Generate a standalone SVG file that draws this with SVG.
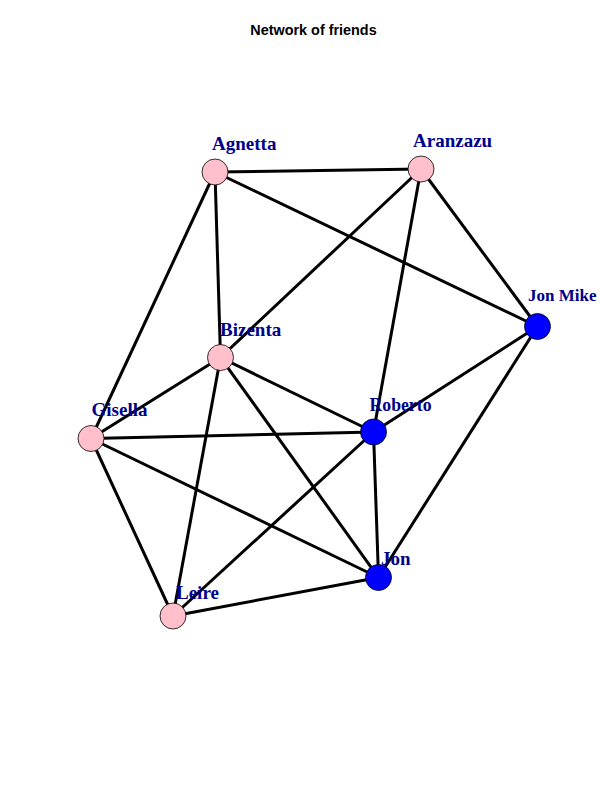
<svg xmlns="http://www.w3.org/2000/svg" width="600" height="800" viewBox="0 0 600 800">
<style>
.e{stroke:#000;stroke-width:3;fill:none}
.p{fill:#FFC0CB;stroke:#000;stroke-width:0.8}
.b{fill:#0000FF;stroke:#000;stroke-width:0.8}
.l{font-family:"Liberation Serif",serif;font-weight:bold;font-size:19px;fill:#00008B}
.t{font-family:"Liberation Sans",Arial,sans-serif;font-weight:bold;font-size:14.4px;fill:#000}
</style>
<rect width="600" height="800" fill="#fff"/>
<text class="t" x="313.5" y="35" text-anchor="middle">Network of friends</text>
<g id="edges">
<line class="e" x1="215" y1="172" x2="421" y2="169"/>
<line class="e" x1="215" y1="172" x2="537.5" y2="326.5"/>
<line class="e" x1="215" y1="172" x2="220.5" y2="357.5"/>
<line class="e" x1="215" y1="172" x2="91" y2="438.5"/>
<line class="e" x1="421" y1="169" x2="220.5" y2="357.5"/>
<line class="e" x1="421" y1="169" x2="373.5" y2="432"/>
<line class="e" x1="421" y1="169" x2="537.5" y2="326.5"/>
<line class="e" x1="537.5" y1="326.5" x2="373.5" y2="432"/>
<line class="e" x1="537.5" y1="326.5" x2="378.5" y2="577.5"/>
<line class="e" x1="220.5" y1="357.5" x2="91" y2="438.5"/>
<line class="e" x1="220.5" y1="357.5" x2="373.5" y2="432"/>
<line class="e" x1="220.5" y1="357.5" x2="378.5" y2="577.5"/>
<line class="e" x1="220.5" y1="357.5" x2="173" y2="616"/>
<line class="e" x1="91" y1="438.5" x2="373.5" y2="432"/>
<line class="e" x1="91" y1="438.5" x2="378.5" y2="577.5"/>
<line class="e" x1="91" y1="438.5" x2="173" y2="616"/>
<line class="e" x1="373.5" y1="432" x2="173" y2="616"/>
<line class="e" x1="373.5" y1="432" x2="378.5" y2="577.5"/>
<line class="e" x1="378.5" y1="577.5" x2="173" y2="616"/>
</g>
<g id="node-agnetta"><circle class="p" cx="215" cy="172" r="13"/><text class="l" x="212" y="149.5">Agnetta</text></g>
<g id="node-aranzazu"><circle class="p" cx="421" cy="169" r="13"/><text class="l" x="413" y="147">Aranzazu</text></g>
<g id="node-jonmike"><circle class="b" cx="537.5" cy="326.5" r="13"/><text class="l" x="528" y="300.5" style="font-size:17px">Jon Mike</text></g>
<g id="node-bizenta"><circle class="p" cx="220.5" cy="357.5" r="13"/><text class="l" x="220" y="335.5">Bizenta</text></g>
<g id="node-gisella"><circle class="p" cx="91" cy="438.5" r="13"/><text class="l" x="91.5" y="415.5">Gisella</text></g>
<g id="node-roberto"><circle class="b" cx="373.5" cy="432" r="13"/><text class="l" x="369.5" y="410.5" textLength="62" lengthAdjust="spacingAndGlyphs">Roberto</text></g>
<g id="node-jon"><circle class="b" cx="378.5" cy="577.5" r="13"/><text class="l" x="381" y="564.5">Jon</text></g>
<g id="node-leire"><circle class="p" cx="173" cy="616" r="13"/><text class="l" x="176" y="598.5">Leire</text></g>
</svg>
